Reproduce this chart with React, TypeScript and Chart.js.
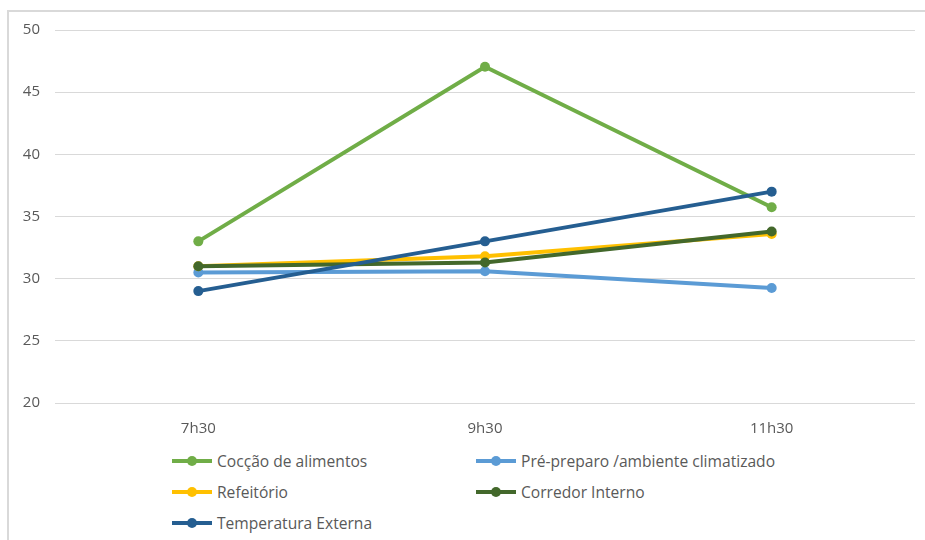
import React, { useEffect, useRef } from "react";
import { Chart, registerables } from "chart.js";

Chart.register(...registerables);

const categories = ["7h30", "9h30", "11h30"];
const coccao = [33, 47.05, 35.75];
const prePreparo = [30.5, 30.6, 29.25];
const refeitorio = [31.0, 31.8, 33.6];
const corredor = [31.0, 31.3, 33.8];
const tempExterna = [29.0, 33.0, 37.0];
const yTicks = [20, 25, 30, 35, 40, 45, 50];

const seriesNames = [
  "Cocção de alimentos",
  "Pré-preparo /ambiente climatizado",
  "Refeitório",
  "Corredor Interno",
  "Temperatura Externa",
];
const seriesColors = ["#70AD47", "#5B9BD5", "#FFC000", "#43682B", "#255E91"];
const seriesData = [coccao, prePreparo, refeitorio, corredor, tempExterna];

const FONT = "'Open Sans', 'Noto Sans', sans-serif";

export default function App() {
  const ref = useRef<HTMLCanvasElement | null>(null);

  useEffect(() => {
    if (!ref.current) return;
    const datasets = seriesData.map((d, i) => ({
      label: seriesNames[i],
      data: d,
      borderColor: seriesColors[i],
      backgroundColor: seriesColors[i],
      borderWidth: 4,
      pointRadius: 5,
      pointHoverRadius: 5,
      pointBorderWidth: 0,
      tension: 0,
      order: 5 - i,
    }));
    const chart = new Chart(ref.current, {
      type: "line",
      data: { labels: categories, datasets },
      options: {
        responsive: false,
        animation: false,
        maintainAspectRatio: false,
        layout: { padding: { left: 0, right: 10, top: 30, bottom: 0 } },
        plugins: { legend: { display: false }, tooltip: { enabled: false } },
        scales: {
          x: {
            offset: true,
            grid: { display: false },
            border: { display: false },
            ticks: { color: "#595959", font: { family: FONT, size: 15 }, padding: 9 },
            afterFit: (s: any) => {
              s.height = 37;
            },
          },
          y: {
            min: 20,
            max: 50,
            afterBuildTicks: (s: any) => {
              s.ticks = yTicks.map((v) => ({ value: v }));
            },
            grid: { color: "#d9d9d9", lineWidth: 1, drawTicks: false },
            border: { display: false },
            ticks: { color: "#595959", font: { family: FONT, size: 15 }, padding: 15 },
            afterFit: (s: any) => {
              s.width = 55;
            },
          },
        },
      },
    });
    return () => chart.destroy();
  }, []);

  return (
    <div style={{ position: "absolute", left: 0, top: 0, width: 925, height: 540, overflow: "hidden", background: "#fff" }}>
      <div
        style={{
          position: "absolute",
          left: 7,
          top: 10,
          width: 940,
          height: 560,
          border: "2px solid #d9d9d9",
          boxSizing: "border-box",
        }}
      />
      <canvas ref={ref} width={925} height={440} style={{ position: "absolute", left: 0, top: 0 }} />
      <div
        style={{
          position: "absolute",
          left: 172,
          top: 450,
          display: "grid",
          gridTemplateColumns: "304px 304px",
          gridAutoRows: "31px",
          fontFamily: FONT,
          fontSize: 15.6,
          color: "#595959",
        }}
      >
        {seriesNames.map((n, i) => (
          <div key={n} style={{ display: "flex", alignItems: "center", height: 22 }}>
            <svg width={44} height={12} style={{ marginRight: 1 }}>
              <line x1={0} y1={6} x2={40} y2={6} stroke={seriesColors[i]} strokeWidth={4} />
              <circle cx={20} cy={6} r={5} fill={seriesColors[i]} />
            </svg>
            <span style={{ whiteSpace: "nowrap" }}>{n}</span>
          </div>
        ))}
      </div>
    </div>
  );
}
